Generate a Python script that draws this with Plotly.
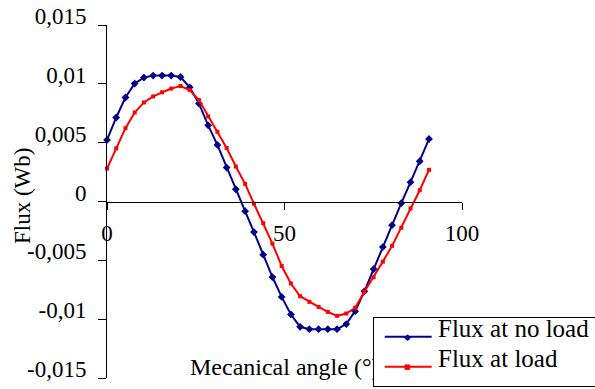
import plotly.graph_objects as go

angle = [0, 2.6, 5.2, 7.8, 10.4, 13.0, 15.5, 18.1, 20.7, 23.3, 25.9, 28.5,
         31.1, 33.7, 36.3, 38.9, 41.4, 44.0, 46.6, 49.2, 51.8, 54.4, 57.0, 59.6,
         62.2, 64.8, 67.4, 69.9, 72.5, 75.1, 77.7, 80.3, 82.9, 85.5, 88.1, 90.7]

flux_no_load = [0.00523, 0.00714, 0.00884, 0.01003, 0.01053, 0.01070, 0.01070, 0.01070,
                0.01058, 0.00970, 0.00832, 0.00647, 0.00481, 0.00288, 0.00104, -0.00082,
                -0.00260, -0.00452, -0.00642, -0.00811, -0.00960, -0.01065, -0.01085, -0.01085,
                -0.01085, -0.01085, -0.01042, -0.00932, -0.00763, -0.00574, -0.00387, -0.00201,
                -0.00013, 0.00164, 0.00342, 0.00531]

flux_load = [0.00280, 0.00452, 0.00623, 0.00756, 0.00842, 0.00893, 0.00928, 0.00960,
             0.00981, 0.00947, 0.00862, 0.00723, 0.00593, 0.00455, 0.00297, 0.00150,
             -0.00019, -0.00184, -0.00358, -0.00548, -0.00697, -0.00805, -0.00853, -0.00896,
             -0.00938, -0.00972, -0.00952, -0.00903, -0.00767, -0.00644, -0.00511, -0.00377,
             -0.00223, -0.00059, 0.00096, 0.00269]

series_names = ["Flux at no load", "Flux at load"]
series_colors = ["#00008B", "#FF0000"]
y_tickvals = [-0.015, -0.01, -0.005, 0, 0.005, 0.01, 0.015]
y_ticktext = ["-0,015", "-0,01", "-0,005", "0", "0,005", "0,01", "0,015"]
x_tickvals = [0, 50, 100]
x_ticktext = ["0", "50", "100"]

FONT = "Liberation Serif, Times New Roman, serif"

# plot area in pixels
L, R, T, B = 107, 462, 25, 378
W, H = 595, 389


def fx(px):
    return (px - L) / (R - L)


def fy(py):
    return (B - py) / (B - T)


fig = go.Figure()
fig.add_trace(go.Scatter(
    x=angle, y=flux_no_load, name=series_names[0], mode="lines+markers",
    line=dict(color=series_colors[0], width=2),
    marker=dict(symbol="diamond", size=6, color=series_colors[0]),
    cliponaxis=False, showlegend=False))
fig.add_trace(go.Scatter(
    x=angle, y=flux_load, name=series_names[1], mode="lines+markers",
    line=dict(color=series_colors[1], width=2),
    marker=dict(symbol="square", size=4, color=series_colors[1]),
    cliponaxis=False, showlegend=False))

annotations = [
    dict(text="Mecanical angle (°)", xref="paper", yref="paper",
         x=0.5, y=fy(367), xanchor="center", yanchor="middle",
         showarrow=False, font=dict(family=FONT, size=24, color="black")),
    dict(text="Flux (Wb)", xref="paper", yref="paper",
         x=fx(22), y=fy(196), xanchor="center", yanchor="middle",
         textangle=-90, showarrow=False,
         font=dict(family=FONT, size=23, color="black")),
    # legend box
    dict(text="", xref="paper", yref="paper", x=fx(372.5), y=fy(316.5),
         xanchor="left", yanchor="top", showarrow=False,
         width=240, height=68, bgcolor="white", bordercolor="black",
         borderwidth=1, borderpad=0),
]

legend_rows = [336.7, 366.7]
marker_glyphs = ["◆", "■"]
marker_sizes = [9, 7]
for name, color, row, glyph, gsize in zip(series_names, series_colors, legend_rows,
                                          marker_glyphs, marker_sizes):
    annotations.append(dict(
        text="", xref="paper", yref="paper", x=fx(431.7), y=fy(row),
        ax=-48.4, ay=0, showarrow=True, arrowhead=0, arrowwidth=2,
        arrowcolor=color, standoff=0, startstandoff=0))
    annotations.append(dict(
        text=glyph, xref="paper", yref="paper", x=fx(407.5), y=fy(row),
        xanchor="center", yanchor="middle", showarrow=False,
        font=dict(family="DejaVu Sans", size=gsize, color=color)))
    annotations.append(dict(
        text=name, xref="paper", yref="paper", x=fx(436), y=fy(row - 8),
        xanchor="left", yanchor="middle", showarrow=False,
        font=dict(family=FONT, size=25, color="black")))

fig.update_layout(
    width=W, height=H,
    margin=dict(l=L, r=W - R, t=T, b=H - B, pad=0, autoexpand=False),
    paper_bgcolor="white", plot_bgcolor="white",
    font=dict(family=FONT, color="black", size=23),
    showlegend=False,
    xaxis=dict(range=[0, 100], tickvals=x_tickvals, ticktext=x_ticktext,
               showgrid=False, zeroline=False, showline=True,
               linecolor="black", linewidth=1, ticks="outside", ticklen=7,
               tickcolor="black", anchor="free", position=0.5,
               ticklabelstandoff=4, automargin=False,
               tickfont=dict(family=FONT, size=23, color="black")),
    yaxis=dict(range=[-0.015, 0.015], tickvals=y_tickvals, ticktext=y_ticktext,
               showgrid=False, zeroline=False, showline=True,
               linecolor="black", linewidth=1, ticks="outside", ticklen=8,
               tickcolor="black", ticklabelstandoff=7, ticklabelshift=-9,
               automargin=False,
               tickfont=dict(family=FONT, size=23, color="black")),
    annotations=annotations,
)

fig.write_html("out.html")
